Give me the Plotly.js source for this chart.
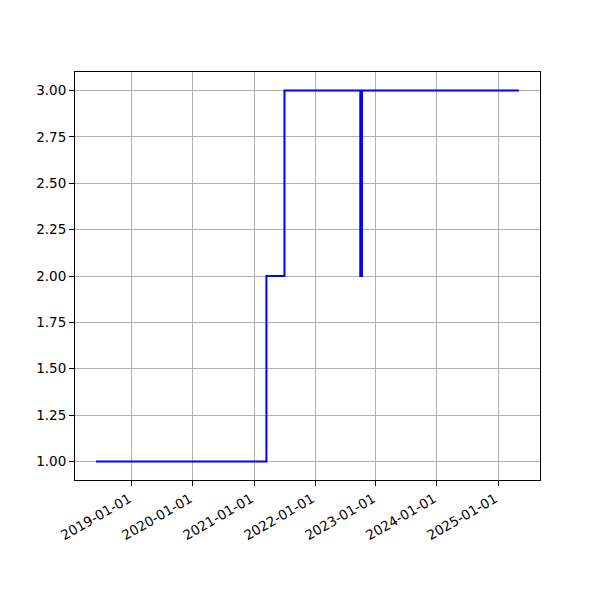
<!DOCTYPE html>
<html>
<head>
<meta charset="utf-8">
<script src="https://cdn.plot.ly/plotly-3.0.1.min.js"></script>
<style>html,body{margin:0;padding:0;background:#fff;}#chart{width:600px;height:600px;}</style>
</head>
<body>
<div id="chart"></div>
<script>
var dates = ["2018-05-31", "2021-03-16", "2021-07-02", "2022-09-29", "2022-10-01", "2022-10-03", "2022-10-05", "2022-10-07", "2022-10-09", "2025-05-06"];
var values = [1, 2, 3, 2, 3, 2, 3, 2, 3, 3];
var yTicks = [1.00, 1.25, 1.50, 1.75, 2.00, 2.25, 2.50, 2.75, 3.00];
var xTicks = ["2019-01-01", "2020-01-01", "2021-01-01", "2022-01-01", "2023-01-01", "2024-01-01", "2025-01-01"];

var trace = {
  x: dates, y: values, type: "scatter", mode: "lines",
  line: {shape: "hv", color: "#0000ff", width: 2},
  hoverinfo: "skip"
};
var font = {family: "DejaVu Sans, sans-serif", size: 13.5, color: "#000"};
var layout = {
  width: 600, height: 600,
  margin: {l: 75, r: 60, t: 72, b: 120, pad: 0},
  paper_bgcolor: "#fff", plot_bgcolor: "#fff",
  showlegend: false,
  font: font,
  xaxis: {
    type: "date", range: ["2018-01-25", "2025-09-09"],
    tickvals: xTicks, ticktext: xTicks, tickangle: -30, ticklabelshift: -3,
    showgrid: true, gridcolor: "#b0b0b0", gridwidth: 1,
    showline: true, linecolor: "#000", linewidth: 1, mirror: true,
    ticks: "outside", ticklen: 5, tickcolor: "#000", tickfont: font,
    zeroline: false
  },
  yaxis: {
    range: [0.9, 3.1], tickvals: yTicks, tickformat: ".2f",
    showgrid: true, gridcolor: "#b0b0b0", gridwidth: 1,
    showline: true, linecolor: "#000", linewidth: 1, mirror: true,
    ticks: "outside", ticklen: 5, tickcolor: "#000", tickfont: font,
    zeroline: false
  }
};
Plotly.newPlot("chart", [trace], layout, {staticPlot: true, displayModeBar: false});
</script>
</body>
</html>
